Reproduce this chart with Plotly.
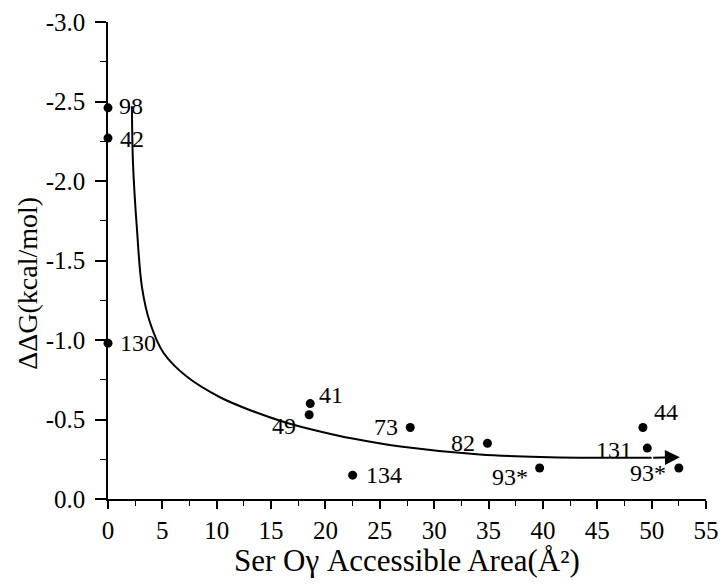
import plotly.graph_objects as go

# --- data ---
point_x = [0.0, 0.0, 0.0, 18.6, 18.5, 27.8, 34.9, 22.5, 39.7, 49.2, 49.6, 52.5]
point_y = [-2.46, -2.27, -0.98, -0.60, -0.53, -0.45, -0.35, -0.15, -0.195, -0.45, -0.32, -0.195]
point_labels = ["98", "42", "130", "41", "49", "73", "82", "134", "93*", "44", "131", "93*"]

curve_x = [2.2, 2.3, 2.67, 3.13, 3.86, 5.1, 7.24, 10.3, 13.4, 16.4, 19.5, 22.5, 26.9, 34.2, 43.4, 50.0]
curve_y = [-2.47, -2.11, -1.69, -1.33, -1.11, -0.92, -0.77, -0.64, -0.55, -0.48, -0.425, -0.38, -0.33, -0.28, -0.26, -0.26]
arrow_tip = (52.6, -0.263)

x_tickvals = [0, 5, 10, 15, 20, 25, 30, 35, 40, 45, 50, 55]
x_ticktext = ["0", "5", "10", "15", "20", "25", "30", "35", "40", "45", "50", "55"]
y_tickvals = [-3.0, -2.5, -2.0, -1.5, -1.0, -0.5, 0.0]
y_ticktext = ["-3.0", "-2.5", "-2.0", "-1.5", "-1.0", "-0.5", "0.0"]

# label placement styles (anchor, xshift px, yshift px)
label_style = [
    ("left", 9, 2), ("left", 10, -1), ("left", 10, 0), ("left", 7, 9),
    ("right", -11, -11), ("right", -10, 0), ("right", -10, 0), ("left", 11, 0),
    ("right", -10, -9), ("left", 9, 15), ("right", -13, -2), ("right", -11, -5),
]

FONT = "Liberation Serif, Tinos, Times New Roman, serif"

fig = go.Figure()
fig.add_trace(go.Scatter(
    x=curve_x, y=curve_y, mode="lines",
    line=dict(color="black", width=2, shape="spline", smoothing=1.0),
    hoverinfo="skip", showlegend=False,
))
fig.add_trace(go.Scatter(
    x=point_x, y=point_y, mode="markers",
    marker=dict(color="black", size=9),
    cliponaxis=False, showlegend=False,
))

annotations = []
for x, y, t, (anc, dx, dy) in zip(point_x, point_y, point_labels, label_style):
    annotations.append(dict(
        x=x, y=y, xref="x", yref="y", text=t, showarrow=False,
        xanchor=anc, yanchor="middle", xshift=dx, yshift=dy,
        font=dict(family=FONT, size=24, color="black"),
    ))

annotations.append(dict(
    x=arrow_tip[0], y=arrow_tip[1], xref="x", yref="y",
    ax=curve_x[-1], ay=curve_y[-1], axref="x", ayref="y",
    showarrow=True, arrowhead=2, arrowsize=1.5, arrowwidth=2,
    arrowcolor="black", text="",
))

annotations.append(dict(
    x=-0.134, y=0.453, xref="paper", yref="paper",
    text="ΔΔG(kcal/mol)", textangle=-90, showarrow=False,
    xanchor="center", yanchor="middle",
    font=dict(family=FONT, size=28, color="black"),
))
annotations.append(dict(
    x=0.5, y=-0.128, xref="paper", yref="paper",
    text="Ser Oγ Accessible Area(Å²)", showarrow=False,
    xanchor="center", yanchor="middle",
    font=dict(family=FONT, size=31, color="black"),
))

fig.update_layout(
    template="none",
    width=723, height=584,
    margin=dict(l=108, r=17, t=22, b=85, autoexpand=False),
    paper_bgcolor="white", plot_bgcolor="white",
    font=dict(family=FONT, size=24, color="black"),
    annotations=annotations,
    showlegend=False,
)
fig.update_xaxes(
    range=[0, 55], tickvals=x_tickvals, ticktext=x_ticktext, automargin=False,
    showline=True, linecolor="black", linewidth=1.5,
    ticks="outside", ticklen=8, tickwidth=1.5, tickcolor="black",
    minor=dict(ticks="outside", ticklen=5, tickwidth=1.2, tickcolor="black", dtick=2.5, tick0=0),
    showgrid=False, zeroline=False,
    tickfont=dict(family=FONT, size=25, color="black"),
)
fig.update_yaxes(
    range=[0, -3], tickvals=y_tickvals, ticktext=y_ticktext, automargin=False,
    showline=True, linecolor="black", linewidth=1.5,
    ticks="outside", ticklen=11, tickwidth=1.5, tickcolor="black", ticklabelstandoff=5,
    minor=dict(ticks="outside", ticklen=6, tickwidth=1.2, tickcolor="black", dtick=0.25, tick0=0),
    showgrid=False, zeroline=False,
    tickfont=dict(family=FONT, size=25, color="black"),
)

fig.write_html(
    "out.html",
    config={"displayModeBar": False},
    post_script="document.body.style.margin='0px';document.body.style.overflow='hidden';",
)
